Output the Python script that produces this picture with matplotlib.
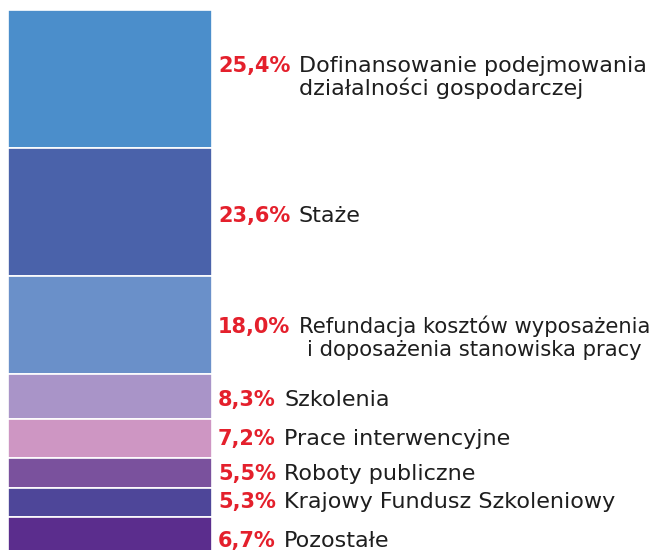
import matplotlib
matplotlib.use('Agg')
import matplotlib.pyplot as plt

# data
shares=[25.4,23.6,18.0,8.3,7.2,5.5,5.3,6.7]
pct_labels=['25,4%','23,6%','18,0%','8,3%','7,2%','5,5%','5,3%','6,7%']
names=['Dofinansowanie podejmowania\ndziałalności gospodarczej',
       'Staże',
       'Refundacja kosztów wyposażenia\ni doposażenia stanowiska pracy',
       'Szkolenia',
       'Prace interwencyjne',
       'Roboty publiczne',
       'Krajowy Fundusz Szkoleniowy',
       'Pozostałe']
colors=['#4B8ECB','#4A62AA','#6A90C9','#A994C8','#CE96C3','#7A519D','#4E4699','#5B2D8D']
# vertical nudge of the first text baseline (in % units)
nudge=[-2.67,0.46,0.09,0.46,-0.18,-0.09,-0.28,0.83]
align=['left','left','center','left','left','left','left','left']

px=5.43  # pixels per percent
W=658
fig=plt.figure(figsize=(6.58,5.5),dpi=100)
ax=fig.add_axes([0,0,1,1])
ax.set_xlim(0,W)
ax.set_ylim(540/px,-10/px)
ax.axis('off')
r=fig.canvas.get_renderer()

bottom=0
for v,c,p,n,dy,al in zip(shares,colors,pct_labels,names,nudge,align):
    ax.bar(110,v,width=204,bottom=bottom,color=c,edgecolor='white',linewidth=1.2)
    y=bottom+v/2+7.5/px+dy
    t=ax.text(218,y,p,color='#E4202C',fontsize=15,fontweight='bold',va='baseline',ha='left')
    w=t.get_window_extent(r).width
    nl=n.count('\n')
    # baseline of a multi-line text is the last line's, so push it down
    lab=ax.annotate(n,xy=(218,y+nl*23/px),xytext=(w*0.72+6,0),textcoords='offset points',
                    va='baseline',ha='left',fontsize=16,color='#1e1e1e',multialignment=al,
                    linespacing=1.1)
    fs=16
    while lab.get_window_extent(r).x1>W-4 and fs>10:
        fs-=0.25
        lab.set_fontsize(fs)
        lab.set_linespacing(1.1*16/fs)
    bottom+=v

fig.savefig('out.png',dpi=100)
